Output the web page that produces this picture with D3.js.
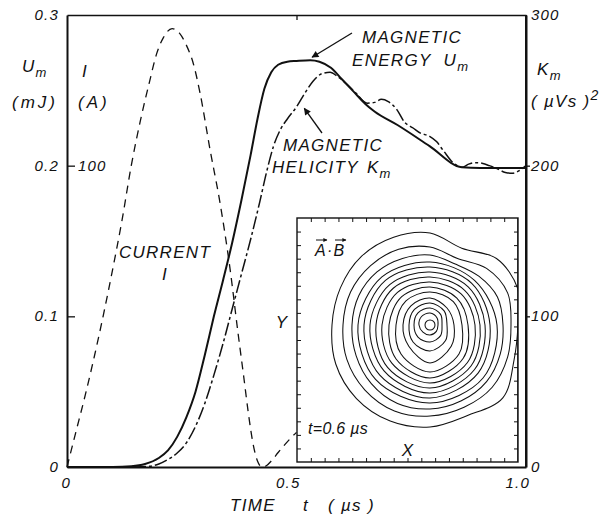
<!DOCTYPE html>
<html><head><meta charset="utf-8">
<script src="https://cdn.jsdelivr.net/npm/d3@7"></script>
<style>
body{margin:0;background:#fff}
svg text{font-family:"Liberation Sans",Arial,sans-serif;font-style:italic;fill:#111}
.num{font-size:15px;letter-spacing:1.2px}
.lab{font-size:17px;letter-spacing:1.3px}
</style></head><body>
<svg id="c" width="609" height="516"></svg>
<script>
// ---------- data ----------
const timeTicks=[0,0.5,1.0];
const timeTickLabels=["0","0.5","1.0"];
const energyTicks=[0,0.1,0.2,0.3];
const energyTickLabels=["0","0.1","0.2","0.3"];
const helicityTicks=[0,100,200,300];
const helicityTickLabels=["0","100","200","300"];
const currentTicks=[100];
const currentTickLabels=["100"];

// magnetic energy U_m (mJ)
const energyT=[0,0.10,0.14,0.17,0.20,0.22,0.24,0.26,0.28,0.30,0.32,0.34,0.36,0.38,0.40,0.415,0.43,0.445,0.46,0.48,0.50,0.53,0.55,0.575,0.60,0.625,0.65,0.67,0.72,0.79,0.86,0.90,1.0];
const energyU=[0,0,0.0005,0.002,0.006,0.011,0.020,0.033,0.050,0.074,0.100,0.124,0.149,0.177,0.207,0.231,0.251,0.262,0.267,0.269,0.2695,0.270,0.269,0.265,0.257,0.249,0.241,0.236,0.227,0.213,0.199,0.1985,0.1985];

// magnetic helicity K_m ((µVs)^2)
const helicityT=[0,0.15,0.18,0.20,0.22,0.24,0.26,0.28,0.30,0.32,0.34,0.36,0.38,0.40,0.42,0.435,0.45,0.465,0.48,0.50,0.52,0.536,0.555,0.573,0.59,0.61,0.63,0.654,0.67,0.685,0.70,0.719,0.735,0.754,0.77,0.79,0.805,0.82,0.841,0.861,0.875,0.89,0.906,0.92,0.937,0.955,0.97,0.987,1.0];
const helicityK=[0,0,0.5,2,5,9.3,16,27,42,61,82,105,128,151,176,196,213,224,231,239,249,256,261,262,259,254,248,241.5,242,244,242.5,237,229,225,221.6,219.5,216,210,202,199,201,202,201.5,200,198,195.5,195,197,200];

// current I (A)
const currentT=[0,0.02,0.04,0.06,0.08,0.10,0.12,0.14,0.16,0.18,0.195,0.21,0.229,0.245,0.26,0.275,0.29,0.312,0.333,0.355,0.373,0.385,0.395,0.405,0.415,0.425,0.435,0.445,0.46,0.475,0.49,0.50];
const currentI=[0,12,24,37,51,66,82,100,115,128,137,142.5,145.5,144,140,134,124,105,88,66,44,30,18,8,2,0,0.5,2,4.8,7.5,10,11.5];

// inset: contours of A·B, radii (inset units) at evenly spaced angles from +X, counter-clockwise
const contourCenter=[133,137];
const contourRadii=[
 [5,5,5,5,5,5,5,5],
 [8,10,12,12,11,10,10,9],
 [12,15,17,17,16,17,17,15],
 [17,20,22,22,21,24,26,22],
 [24,24,27,27,27,30,38,30],
 [32,33,33,34,34,41,47,41],
 [38,38,38,40,41,48,53,47],
 [45,44,43,46,48,54,58,53],
 [50,49,48,52,54,60,63,58],
 [55,54,53,57,60,65,68,63],
 [60,59,58,63,66,71,73,68],
 [67,63,63,68,72,77,78,75],
 [73,73,69,66,70,72,75,77,78,80,83,85,84,82,80,76],
 [81,84,80,72,78,82,84,86,87,90,92,93,91,89,88,84],
 [88,95,94,83,92,95,97,97,98,102,104,104,102,98,103,91]
];

// ---------- drawing ----------
const svg=d3.select('#c');
const x=d3.scaleLinear().domain([0,1]).range([67,526]);
const yU=d3.scaleLinear().domain([0,0.3]).range([467,15]);
const yK=d3.scaleLinear().domain([0,300]).range([467,15]);
const yI=d3.scaleLinear().domain([0,150]).range([467,15]);

const defs=svg.append('defs');
defs.append('marker').attr('id','ah').attr('viewBox','0 0 10 10')
 .attr('refX',9).attr('refY',5).attr('markerWidth',9).attr('markerHeight',7)
 .attr('markerUnits','userSpaceOnUse').attr('orient','auto')
 .append('path').attr('d','M0,0 L10,5 L0,10 Z').attr('fill','#111');
defs.append('marker').attr('id','ahs').attr('viewBox','0 0 10 10').attr('refX',9).attr('refY',5)
 .attr('markerWidth',5).attr('markerHeight',4).attr('markerUnits','userSpaceOnUse').attr('orient','auto')
 .append('path').attr('d','M0,0 L10,5 L0,10 Z').attr('fill','#111');

const line=(xs,ys,sy)=>d3.line().curve(d3.curveMonotoneX)
  .x((d,i)=>x(xs[i])).y((d,i)=>sy(ys[i]))(xs);

// current (dashed)
svg.append('path').attr('d',line(currentT,currentI,yI)).attr('fill','none')
 .attr('stroke','#111').attr('stroke-width',1.3).attr('stroke-dasharray','8,6');
// helicity (dash-dot)
svg.append('path').attr('d',line(helicityT,helicityK,yK)).attr('fill','none')
 .attr('stroke','#111').attr('stroke-width',1.5).attr('stroke-dasharray','13,3,3,3');
// energy (solid)
svg.append('path').attr('d',line(energyT,energyU,yU)).attr('fill','none')
 .attr('stroke','#111').attr('stroke-width',2);

// axes
const ax=g=>g.selectAll('path,line').attr('stroke','#111');
svg.append('g').attr('transform',`translate(${x(0)},0)`)
 .call(d3.axisLeft(yU).tickValues([0.1,0.2]).tickSize(-8).tickSizeOuter(0).tickFormat(''))
 .call(ax).call(g=>g.select('.domain').attr('stroke-width',2));
svg.append('g').attr('transform',`translate(${x(1)},0)`)
 .call(d3.axisRight(yK).tickValues([100,200]).tickSize(4).tickSizeOuter(0).tickFormat(''))
 .call(ax).call(g=>g.select('.domain').attr('stroke-width',2));
svg.append('g').attr('transform',`translate(0,${yU(0)})`)
 .call(d3.axisBottom(x).tickValues([]).tickSizeOuter(0))
 .call(ax).call(g=>g.select('.domain').attr('stroke-width',2));
svg.append('g').attr('transform',`translate(0,${yU(0.3)})`)
 .call(d3.axisTop(x).tickValues([0.5]).tickSize(-5).tickSizeOuter(0).tickFormat(''))
 .call(ax).call(g=>g.select('.domain').attr('stroke-width',1.5));
svg.selectAll('.tick line').attr('stroke-width',1.3);

// tick labels
energyTicks.forEach((v,i)=>svg.append('text').attr('class','num').attr('x',x(0)-8).attr('y',yU(v)+5)
 .attr('text-anchor','end').text(energyTickLabels[i]));
helicityTicks.forEach((v,i)=>svg.append('text').attr('class','num').attr('x',x(1)+5).attr('y',yK(v)+5)
 .text(helicityTickLabels[i]));
currentTicks.forEach((v,i)=>svg.append('text').attr('class','num').attr('x',x(0)+11).attr('y',yI(v)+5)
 .text(currentTickLabels[i]));
timeTicks.forEach((v,i)=>svg.append('text').attr('class','num').attr('x',x(v)+4).attr('y',yU(0)+21)
 .attr('text-anchor','end').text(timeTickLabels[i]));

// axis titles
function sub(a,b,px,py){const e=svg.append('text').attr('class','lab').attr('x',px).attr('y',py);
 e.append('tspan').text(a); e.append('tspan').attr('dy',5).style('font-size','13px').text(b); return e;}
sub('U','m',22,72);
svg.append('text').attr('class','lab').attr('x',12).attr('y',108).text('(mJ)').style('letter-spacing','3px');
svg.append('text').attr('class','lab').attr('x',82).attr('y',77).text('I');
svg.append('text').attr('class','lab').attr('x',78).attr('y',108).text('(A)').style('letter-spacing','3px');
sub('K','m',537,75);
const kv=svg.append('text').attr('class','lab').attr('x',531).attr('y',107);
kv.append('tspan').text('( µVs )');
kv.append('tspan').attr('dy',-7).style('font-size','14px').text('2');
const tt=svg.append('text').attr('class','lab').attr('y',511);
tt.append('tspan').attr('x',230).text('TIME');
tt.append('tspan').attr('x',303).text('t');
tt.append('tspan').attr('x',328).text('( µs )');

// curve labels
svg.append('text').attr('class','lab').attr('x',362).attr('y',43).text('MAGNETIC');
const en=svg.append('text').attr('class','lab').attr('x',352).attr('y',66);
en.append('tspan').text('ENERGY');
en.append('tspan').attr('dx',12).text('U');
en.append('tspan').attr('dy',5).style('font-size','13px').text('m');
svg.append('text').attr('class','lab').attr('x',283).attr('y',151).text('MAGNETIC');
const he=svg.append('text').attr('class','lab').attr('x',272).attr('y',173);
he.append('tspan').text('HELICITY');
he.append('tspan').attr('dx',8).text('K');
he.append('tspan').attr('dy',5).style('font-size','13px').text('m');
svg.append('text').attr('class','lab').attr('x',165).attr('y',258).attr('text-anchor','middle').text('CURRENT');
svg.append('text').attr('class','lab').attr('x',165).attr('y',280).attr('text-anchor','middle').text('I');

// arrows
svg.append('line').attr('x1',352).attr('y1',33).attr('x2',x(0.534)).attr('y2',yU(0.272))
 .attr('stroke','#111').attr('stroke-width',1.3).attr('marker-end','url(#ah)');
svg.append('line').attr('x1',322).attr('y1',133).attr('x2',x(0.517)).attr('y2',yK(238))
 .attr('stroke','#111').attr('stroke-width',1.3).attr('marker-end','url(#ah)');

// ---------- inset ----------
const sx=d3.scaleLinear().domain([0,221]).range([297,518]);
const sy=d3.scaleLinear().domain([0,244]).range([462,218]);
const ins=svg.append('g');
ins.append('rect').attr('x',sx(0)).attr('y',sy(244)).attr('width',sx(221)-sx(0)).attr('height',sy(0)-sy(244))
 .attr('fill','#fff').attr('stroke','#111').attr('stroke-width',1.4);
const xt=d3.range(1,16).map(i=>i*221/16), yt=d3.range(1,18).map(i=>i*244/18);
const ta=g=>g.call(s=>s.select('.domain').remove()).selectAll('line').attr('stroke','#111').attr('stroke-width',1);
ins.append('g').attr('transform',`translate(0,${sy(0)})`).call(d3.axisBottom(sx).tickValues(xt).tickSize(-4).tickFormat('')).call(ta);
ins.append('g').attr('transform',`translate(0,${sy(244)})`).call(d3.axisTop(sx).tickValues(xt).tickSize(-4).tickFormat('')).call(ta);
ins.append('g').attr('transform',`translate(${sx(0)},0)`).call(d3.axisLeft(sy).tickValues(yt).tickSize(-4).tickFormat('')).call(ta);
ins.append('g').attr('transform',`translate(${sx(221)},0)`).call(d3.axisRight(sy).tickValues(yt).tickSize(-4).tickFormat('')).call(ta);

const cl=d3.line().curve(d3.curveCatmullRomClosed.alpha(0.5)).x(d=>sx(d[0])).y(d=>sy(d[1]));
contourRadii.forEach(rs=>{
  const n=rs.length;
  const pts=rs.map((r,i)=>{const a=i*2*Math.PI/n;return [contourCenter[0]+r*Math.cos(a),contourCenter[1]+r*Math.sin(a)];});
  ins.append('path').attr('d',cl(pts)).attr('fill','none').attr('stroke','#111').attr('stroke-width',1.05);
});
// keep contours inside the box
ins.append('rect').attr('x',sx(221)).attr('y',sy(244)).attr('width',6).attr('height',sy(0)-sy(244)).attr('fill','#fff');
svg.append('line').attr('x1',x(1)).attr('x2',x(1)).attr('y1',yK(300)).attr('y2',yK(0)).attr('stroke','#111').attr('stroke-width',2);
ins.append('line').attr('x1',sx(221)).attr('x2',sx(221)).attr('y1',sy(0)).attr('y2',sy(244)).attr('stroke','#111').attr('stroke-width',1.4);

// inset labels
ins.append('text').attr('class','lab').attr('x',315).attr('y',256).style('font-size','16px').text('A·B');
[[316,327],[335,346]].forEach(p=>ins.append('line').attr('x1',p[0]).attr('x2',p[1]).attr('y1',240).attr('y2',240)
  .attr('stroke','#111').attr('stroke-width',1).attr('marker-end','url(#ahs)'));
svg.append('text').attr('class','lab').attr('x',282).attr('y',328).attr('text-anchor','middle').text('Y');
ins.append('text').attr('class','lab').attr('x',408).attr('y',456).attr('text-anchor','middle').text('X');
ins.append('text').attr('class','lab').attr('x',308).attr('y',434).style('font-size','16px').style('letter-spacing','0.3px').text('t=0.6 µs');
</script></body></html>
